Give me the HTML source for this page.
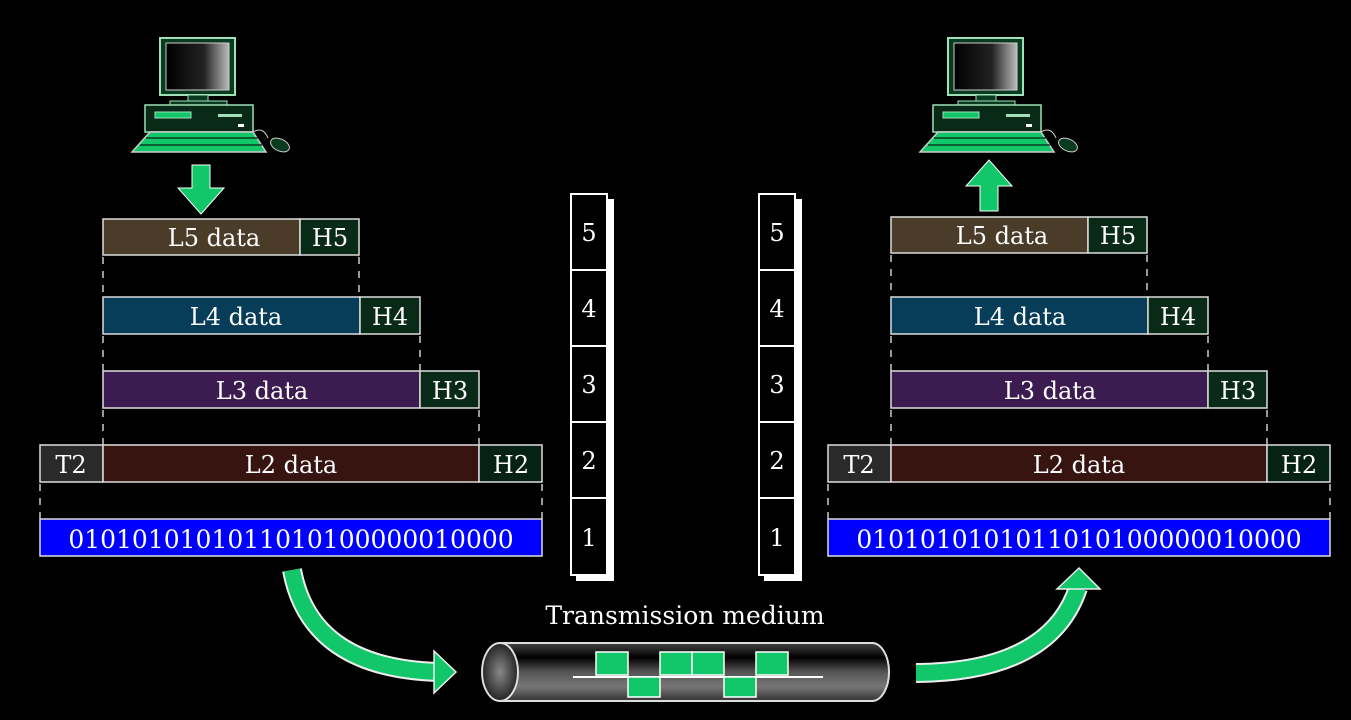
<!DOCTYPE html>
<html><head><meta charset="utf-8"><style>
html,body{margin:0;padding:0;background:#000;}
svg{display:block;font-family:"DejaVu Serif","Liberation Serif",serif;}
</style></head><body>
<svg width="1351" height="720" viewBox="0 0 1351 720">
<defs>
<linearGradient id="scr" x1="0" y1="0" x2="1" y2="0"><stop offset="0" stop-color="#000"/><stop offset="0.6" stop-color="#222"/><stop offset="1" stop-color="#bbb"/></linearGradient>
<linearGradient id="pipe" x1="0" y1="0" x2="0" y2="1"><stop offset="0" stop-color="#444"/><stop offset="0.25" stop-color="#000"/><stop offset="0.5" stop-color="#555"/><stop offset="0.75" stop-color="#777"/><stop offset="1" stop-color="#333"/></linearGradient>
<radialGradient id="pend" cx="0.5" cy="0.5" r="0.6"><stop offset="0" stop-color="#888"/><stop offset="1" stop-color="#111"/></radialGradient>
<g id="computer">
<rect x="42" y="8" width="75" height="57" fill="#0a3a20" stroke="#9fe0b8" stroke-width="2"/>
<rect x="48" y="13" width="63" height="47" fill="url(#scr)" stroke="#ccc" stroke-width="1"/>
<rect x="70" y="65" width="20" height="6" fill="#0a3a20" stroke="#9fe0b8"/>
<rect x="52" y="71" width="57" height="4" fill="#0a3a20" stroke="#9fe0b8"/>
<rect x="27" y="75" width="108" height="27" fill="#0a2a18" stroke="#9fe0b8" stroke-width="1.5"/>
<rect x="37" y="82" width="36" height="6" fill="#12c76a" stroke="#9fe0b8"/>
<rect x="100" y="84" width="24" height="3" fill="#9fe0b8"/>
<rect x="120" y="94" width="6" height="3" fill="#fff"/>
<polygon points="32,102 135,102 148,122 14,122" fill="#12c76a" stroke="#ccc" stroke-width="1.5"/>
<path d="M28,108H140M22,115H144" stroke="#0a3a20" stroke-width="1.5"/>
<path d="M135,102 Q145,96 150,108" fill="none" stroke="#ccc"/>
<ellipse cx="162" cy="115" rx="10" ry="6" fill="#0a3a20" stroke="#ccc" transform="rotate(25 162 115)"/>
</g>
</defs>

<use href="#computer" x="118" y="30"/>
<use href="#computer" x="906" y="30"/>

<polygon points="192,165 210,165 210,188 224,188 201,214 178,188 192,188" fill="#12c76a" stroke="#fff" stroke-width="1"/>
<polygon points="980,211 998,211 998,186 1012,186 989,160 966,186 980,186" fill="#12c76a" stroke="#fff" stroke-width="1"/>

<g stroke="#ddd" stroke-width="1.5" fill="#fff">
<g>
<rect x="103" y="219" width="197" height="36" fill="#4a3c28"/><rect x="300" y="219" width="59" height="36" fill="#0a2a18"/>
</g>
<g>
<rect x="103" y="297" width="257" height="37" fill="#073d58"/><rect x="360" y="297" width="60" height="37" fill="#0a2a18"/>
</g>
<g>
<rect x="103" y="371" width="317" height="37" fill="#3c1b50"/><rect x="420" y="371" width="59" height="37" fill="#0a2a18"/>
</g>
<g>
<rect x="40" y="445" width="63" height="37" fill="#2a2a2a"/><rect x="103" y="445" width="376" height="37" fill="#381410"/><rect x="479" y="445" width="63" height="37" fill="#062214"/>
</g>
<rect x="40" y="519" width="502" height="37" fill="#0000ff"/>
<g>
<rect x="891" y="217" width="197" height="36" fill="#4a3c28"/><rect x="1088" y="217" width="59" height="36" fill="#0a2a18"/>
</g>
<g>
<rect x="891" y="297" width="257" height="37" fill="#073d58"/><rect x="1148" y="297" width="60" height="37" fill="#0a2a18"/>
</g>
<g>
<rect x="891" y="371" width="317" height="37" fill="#3c1b50"/><rect x="1208" y="371" width="59" height="37" fill="#0a2a18"/>
</g>
<g>
<rect x="828" y="445" width="63" height="37" fill="#2a2a2a"/><rect x="891" y="445" width="376" height="37" fill="#381410"/><rect x="1267" y="445" width="63" height="37" fill="#062214"/>
</g>
<rect x="828" y="519" width="502" height="37" fill="#0000ff"/>
</g>

<g stroke="#ccc" stroke-width="1.5" stroke-dasharray="7,7">
<path d="M103,257V297M359,257V297M103,336V371M420,336V371M103,410V445M479,410V445M40,484V519M542,484V519"/>
<path d="M891,255V297M1147,255V297M891,336V371M1208,336V371M891,410V445M1267,410V445M828,484V519M1330,484V519"/>
</g>

<g font-size="24" fill="#fff" text-anchor="middle" stroke="none">
<text x="214" y="246">L5 data</text><text x="330" y="246">H5</text>
<text x="236" y="325">L4 data</text><text x="390" y="325">H4</text>
<text x="262" y="399">L3 data</text><text x="450" y="399">H3</text>
<text x="71" y="473">T2</text><text x="291" y="473">L2 data</text><text x="511" y="473">H2</text>
<text x="291" y="548" font-size="25">0101010101011010100000010000</text>
<text x="1002" y="244">L5 data</text><text x="1118" y="244">H5</text>
<text x="1020" y="325">L4 data</text><text x="1178" y="325">H4</text>
<text x="1050" y="399">L3 data</text><text x="1238" y="399">H3</text>
<text x="859" y="473">T2</text><text x="1079" y="473">L2 data</text><text x="1299" y="473">H2</text>
<text x="1079" y="548" font-size="25">0101010101011010100000010000</text>
<text x="685" y="624" font-size="25">Transmission medium</text>
</g>

<g stroke="#fff" stroke-width="2" font-size="24" fill="#fff" text-anchor="middle">
<g>
<rect x="577" y="200" width="36" height="380" fill="#fff"/>
<rect x="571" y="194" width="36" height="381" fill="#000"/>
<path d="M571,270H607M571,346H607M571,422H607M571,498H607"/>
<g stroke="none"><text x="589" y="241">5</text><text x="589" y="317">4</text><text x="589" y="393">3</text><text x="589" y="469">2</text><text x="589" y="546">1</text></g>
</g>
<g>
<rect x="765" y="200" width="36" height="380" fill="#fff"/>
<rect x="759" y="194" width="36" height="381" fill="#000"/>
<path d="M759,270H795M759,346H795M759,422H795M759,498H795"/>
<g stroke="none"><text x="777" y="241">5</text><text x="777" y="317">4</text><text x="777" y="393">3</text><text x="777" y="469">2</text><text x="777" y="546">1</text></g>
</g>
</g>

<g>
<path d="M292,570 Q310,668 438,672" fill="none" stroke="#eee" stroke-width="20"/>
<path d="M292,570 Q310,668 438,672" fill="none" stroke="#12c76a" stroke-width="16"/>
<polygon points="434,651 456,672 434,693" fill="#12c76a" stroke="#eee" stroke-width="1.5"/>
</g>
<g>
<path d="M916,673 Q1050,672 1078,588" fill="none" stroke="#eee" stroke-width="20"/>
<path d="M916,673 Q1050,672 1078,588" fill="none" stroke="#12c76a" stroke-width="16"/>
<polygon points="1057,589 1079,568 1100,589" fill="#12c76a" stroke="#eee" stroke-width="1.5"/>
</g>

<g>
<path d="M500,643 H872 A17,29 0 0 1 872,701 H500 Z" fill="url(#pipe)" stroke="#ddd" stroke-width="2"/>
<ellipse cx="500" cy="672" rx="18" ry="29" fill="url(#pend)" stroke="#ddd" stroke-width="2"/>
<path d="M573,677H823" stroke="#fff" stroke-width="2"/>
<g fill="#12c76a" stroke="#fff" stroke-width="1.5">
<rect x="596" y="652" width="32" height="23"/>
<rect x="628" y="677" width="32" height="20"/>
<rect x="660" y="652" width="32" height="23"/>
<rect x="692" y="652" width="32" height="23"/>
<rect x="724" y="677" width="32" height="20"/>
<rect x="756" y="652" width="32" height="23"/>
</g>
</g>
</svg>
</body></html>
